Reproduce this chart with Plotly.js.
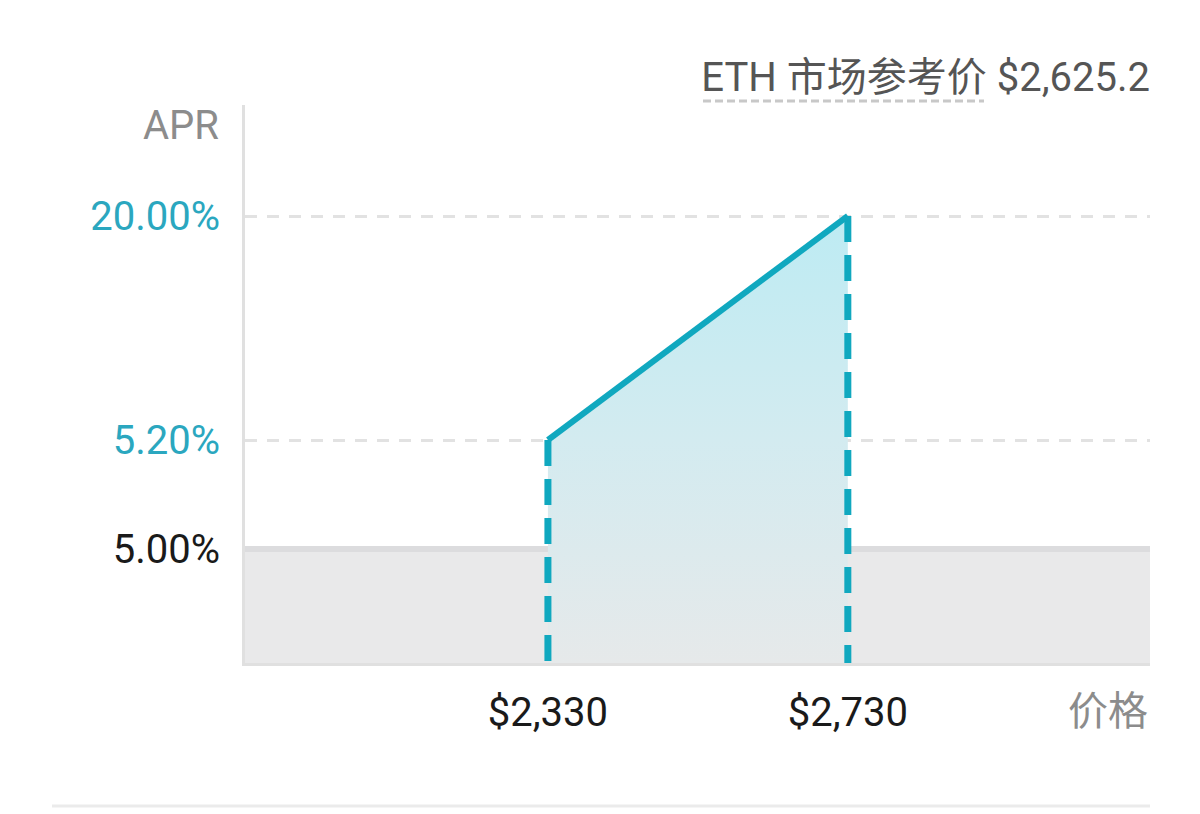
<!DOCTYPE html>
<html>
<head>
<meta charset="utf-8">
<script src="https://cdn.plot.ly/plotly-3.0.1.min.js"></script>
<style>
  body { margin: 0; background: #fff; }
  #chart { width: 1200px; height: 814px; }
</style>
</head>
<body>
<div id="chart"></div>
<script>
// price range of the position and APR at each end
var priceTicks = [2330, 2730];
var aprAtPrice = [5.2, 20];
var baseApr = 5.0;
var refPrice = 2625.2;
var xRange = [1926, 3133];

// the chart is schematic: APR levels sit at fixed heights (px from plot bottom)
var levelAnchors = [[baseApr, 114], [aprAtPrice[0], 223], [aprAtPrice[1], 447]];
function yOf(v) {
  for (var i = 0; i < levelAnchors.length - 1; i++) {
    var a = levelAnchors[i], b = levelAnchors[i + 1];
    if (v <= b[0]) return a[1] + (v - a[0]) / (b[0] - a[0]) * (b[1] - a[1]);
  }
  return levelAnchors[levelAnchors.length - 1][1];
}
function money(v) { return "$" + v.toLocaleString("en-US"); }
function pct(v) { return v.toFixed(2) + "%"; }

var teal = "#10a8bf";
var font = "Roboto, 'Noto Sans CJK SC', sans-serif";

var data = [
  {
    // gray band below the base APR
    x: xRange, y: [yOf(baseApr), yOf(baseApr)],
    mode: "lines", fill: "tozeroy", fillcolor: "#e9e9ea",
    line: { color: "#dcdcde", width: 6 }, hoverinfo: "skip",
  },
  {
    // shaded APR area
    x: [priceTicks[0], priceTicks[0], priceTicks[1], priceTicks[1]],
    y: [0, yOf(aprAtPrice[0]), yOf(aprAtPrice[1]), 0],
    mode: "none", fill: "toself",
    fillgradient: { type: "vertical", colorscale: [[0, "#e6e9ea"], [0.5, "#d3ebf0"], [1, "#bdebf3"]] },
    hoverinfo: "skip",
  },
  {
    x: [priceTicks[0], priceTicks[0]], y: [yOf(aprAtPrice[0]), 0],
    mode: "lines", line: { color: teal, width: 7, dash: "26px,13px" }, hoverinfo: "skip",
  },
  {
    x: [priceTicks[1], priceTicks[1]], y: [yOf(aprAtPrice[1]), 0],
    mode: "lines", line: { color: teal, width: 7, dash: "26px,13px" }, hoverinfo: "skip",
  },
  {
    x: priceTicks, y: [yOf(aprAtPrice[0]), yOf(aprAtPrice[1])],
    mode: "lines", line: { color: teal, width: 6 }, hoverinfo: "skip",
  },
];

var layout = {
  width: 1200,
  height: 814,
  margin: { l: 245, r: 50, t: 105, b: 151 },
  paper_bgcolor: "#fff",
  plot_bgcolor: "#fff",
  showlegend: false,
  font: { family: font, size: 40, color: "#1a1a1a" },
  title: {
    text: "ETH 市场参考价 " + "$" + refPrice.toLocaleString("en-US", { minimumFractionDigits: 1 }),
    font: { family: font, size: 40, color: "#555" },
    x: 1, xref: "paper", xanchor: "right",
    y: 1 - 77 / 814, yanchor: "middle",
  },
  xaxis: {
    range: xRange, fixedrange: true,
    tickvals: priceTicks, ticktext: priceTicks.map(money),
    showgrid: false, zeroline: false,
    showline: true, linecolor: "#e0e0e0", linewidth: 3,
    ticks: "", ticklabelstandoff: 12,
    tickfont: { size: 40, color: "#1a1a1a" },
  },
  yaxis: {
    range: [0, 558], fixedrange: true,
    tickvals: [yOf(baseApr), yOf(aprAtPrice[0]), yOf(aprAtPrice[1])],
    ticktext: [
      pct(baseApr),
      '<span style="color:#2ba7bf">' + pct(aprAtPrice[0]) + "</span>",
      '<span style="color:#2ba7bf">' + pct(aprAtPrice[1]) + "</span>",
    ],
    showgrid: true, gridcolor: "#e2e2e2", gridwidth: 3, griddash: "12px,10px",
    zeroline: false,
    showline: true, linecolor: "#e0e0e0", linewidth: 3,
    ticks: "", ticklabelstandoff: 14,
    tickfont: { size: 40, color: "#1a1a1a" },
  },
  annotations: [
    {
      text: "APR", xref: "paper", yref: "paper", x: 0, xanchor: "right", xshift: -24,
      y: (663 - 125) / 558, yanchor: "middle", showarrow: false,
      font: { size: 40, color: "#8c8c8c" },
    },
    {
      text: "价格", xref: "paper", yref: "paper", x: 1, xanchor: "right",
      y: (663 - 711) / 558, yanchor: "middle", showarrow: false,
      font: { size: 40, color: "#8c8c8c" },
    },
  ],
  shapes: [
    {
      // dotted underline under the reference price label
      type: "line", xref: "paper", yref: "paper",
      x0: (703 - 245) / 905, x1: (984 - 245) / 905,
      y0: (663 - 101) / 558, y1: (663 - 101) / 558,
      line: { color: "#c8c8c8", width: 3, dash: "8px,4px" },
    },
    {
      // bottom separator
      type: "line", xref: "paper", yref: "paper",
      x0: (52 - 245) / 905, x1: 1,
      y0: (663 - 806) / 558, y1: (663 - 806) / 558,
      line: { color: "#ebebeb", width: 3 },
    },
  ],
};

Plotly.newPlot("chart", data, layout, { displayModeBar: false, staticPlot: true });
</script>
</body>
</html>
